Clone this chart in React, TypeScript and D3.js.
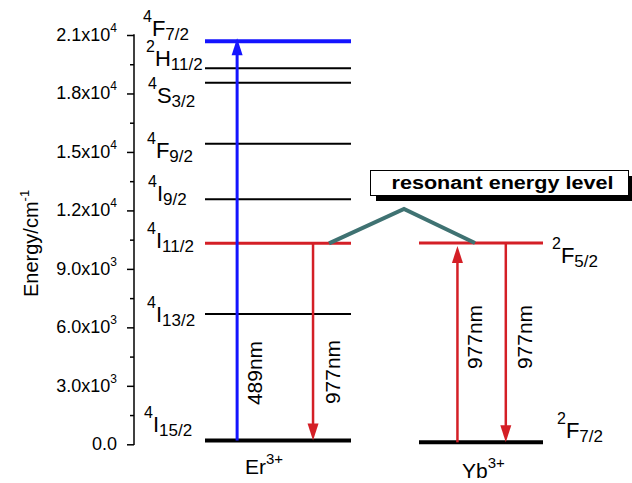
import React, { useEffect, useRef } from 'react';
import * as d3 from 'd3';

// Er3+ levels, top to bottom (cm^-1)
const erTermSup = ['4', '2', '4', '4', '4', '4', '4', '4'];
const erTermLetter = ['F', 'H', 'S', 'F', 'I', 'I', 'I', 'I'];
const erTermJ = ['7/2', '11/2', '3/2', '9/2', '9/2', '11/2', '13/2', '15/2'];
const erEnergy = [20680, 19290, 18550, 15420, 12570, 10310, 6690, 200];

// Yb3+ levels
const ybTermSup = ['2', '2'];
const ybTermLetter = ['F', 'F'];
const ybTermJ = ['5/2', '7/2'];
const ybEnergy = [10330, 100];

const yTicks = [0, 3000, 6000, 9000, 12000, 15000, 18000, 21000];
const yTickMantissa = ['0.0', '3.0x10', '6.0x10', '9.0x10', '1.2x10', '1.5x10', '1.8x10', '2.1x10'];
const yTickExp = ['', '3', '3', '3', '4', '4', '4', '4'];
const yMinorTicks = [1500, 4500, 7500, 10500, 13500, 16500, 19500];

const arrowLabels = ['489nm', '977nm', '977nm', '977nm'];
const resonantPeak = 12070;

const BLUE = '#1414ff';
const RED = '#d41f26';
const TEAL = '#3f7272';

const Term = ({ x, y, sup, letter, j }) => (
  <text x={x} y={y}>
    <tspan fontSize={16} dy={-14}>{sup}</tspan>
    <tspan fontSize={22} dy={14}>{letter}</tspan>
    <tspan fontSize={17} dy={4}>{j}</tspan>
  </text>
);

const Arrow = ({ x, from, to, color, width }) => {
  const dir = to < from ? -1 : 1;
  const head = 17;
  const half = 5.5;
  const base = to - dir * head;
  return (
    <g>
      <line x1={x} x2={x} y1={from} y2={base + dir * 2} stroke={color} strokeWidth={width} />
      <path d={`M${x},${to} L${x - half},${base} L${x + half},${base} Z`} fill={color} />
    </g>
  );
};

export default function App() {
  const axisRef = useRef(null);
  const y = d3.scaleLinear().domain([0, 21000]).range([444.3, 35]);

  const er = [205, 351];
  const yb = [419, 543];

  useEffect(() => {
    const g = d3.select(axisRef.current);
    g.selectAll('*').remove();
    g.append('g')
      .call(d3.axisLeft(y).tickValues(yTicks).tickSize(7).tickFormat(() => ''))
      .call((s) => s.select('.domain').remove());
    g.append('g')
      .call(d3.axisLeft(y).tickValues(yMinorTicks).tickSize(4).tickFormat(() => ''))
      .call((s) => s.select('.domain').remove());
    g.selectAll('.tick line').attr('stroke', '#000').attr('stroke-width', 1.5);
    g.append('line')
      .attr('y1', y(0) + 0.75)
      .attr('y2', y(21000) - 0.75)
      .attr('stroke', '#000')
      .attr('stroke-width', 1.5);
  }, []);

  const erColor = (i) => (i === 0 ? BLUE : i === 5 ? RED : '#000');
  const erWidth = (i) => (i === 0 ? 4 : i === 5 ? 3 : i === 7 ? 4 : 2);
  const erLabelDx = [-3, 0, 2, 1, 2, 1, 1, -2];
  const erLabelDy = [-5, -2, 20, 14, 2, 5, 8, -8];

  const ax = {
    blue: er[0] + 0.22 * (er[1] - er[0]),
    erRed: er[0] + 0.74 * (er[1] - er[0]),
    ybUp: yb[0] + 0.31 * (yb[1] - yb[0]),
    ybDown: yb[0] + 0.70 * (yb[1] - yb[0]),
  };

  return (
    <svg
      width={632}
      height={483}
      style={{ position: 'absolute', left: 0, top: 0 }}
      fontFamily="'Liberation Sans', Arial, sans-serif"
    >
      <rect width={632} height={483} fill="#fff" />

      {/* y axis */}
      <g ref={axisRef} transform="translate(134,0)" />
      {yTicks.map((t, i) => (
        <text key={t} x={117} y={y(t) + 6} fontSize={18} textAnchor="end">
          {yTickMantissa[i]}
          {yTickExp[i] && (
            <tspan fontSize={12} dy={-9}>{yTickExp[i]}</tspan>
          )}
        </text>
      ))}
      <text transform={`translate(38,297) rotate(-90)`} fontSize={20}>
        Energy/cm<tspan fontSize={13} dy={-9}>-1</tspan>
      </text>

      {/* Er levels */}
      {erEnergy.map((e, i) => (
        <line key={i} x1={er[0]} x2={er[1]} y1={y(e)} y2={y(e)} stroke={erColor(i)} strokeWidth={erWidth(i)} />
      ))}
      {erEnergy.map((e, i) => (
        <Term
          key={i}
          x={146 + erLabelDx[i]}
          y={y(e) + erLabelDy[i]}
          sup={erTermSup[i]}
          letter={erTermLetter[i]}
          j={erTermJ[i]}
        />
      ))}

      {/* Yb levels */}
      {ybEnergy.map((e, i) => (
        <line key={i} x1={yb[0]} x2={yb[1]} y1={y(e)} y2={y(e)} stroke={i === 0 ? RED : '#000'} strokeWidth={i === 0 ? 3 : 4} />
      ))}
      <Term x={552} y={y(ybEnergy[0]) + 20} sup={ybTermSup[0]} letter={ybTermLetter[0]} j={ybTermJ[0]} />
      <Term x={557} y={y(ybEnergy[1]) - 4} sup={ybTermSup[1]} letter={ybTermLetter[1]} j={ybTermJ[1]} />

      {/* transitions */}
      <Arrow x={ax.blue} from={y(erEnergy[7])} to={y(erEnergy[0]) - 3} color={BLUE} width={3} />
      <Arrow x={ax.erRed} from={y(erEnergy[5])} to={y(erEnergy[7])} color={RED} width={2.5} />
      <Arrow x={ax.ybUp} from={y(ybEnergy[1])} to={y(ybEnergy[0]) + 3} color={RED} width={2.5} />
      <Arrow x={ax.ybDown} from={y(ybEnergy[0])} to={y(ybEnergy[1])} color={RED} width={2.5} />

      {[
        [ax.blue + 25, 373],
        [ax.erRed + 27, 372],
        [ax.ybUp + 25, 337],
        [ax.ybDown + 26, 337],
      ].map(([tx, ty], i) => (
        <text key={i} transform={`translate(${tx},${ty}) rotate(-90)`} fontSize={21} textAnchor="middle">
          {arrowLabels[i]}
        </text>
      ))}

      {/* resonant energy transfer */}
      <polyline
        points={[
          [329, y(erEnergy[5])],
          [404, y(resonantPeak)],
          [475, y(ybEnergy[0])],
        ].map((p) => p.join(',')).join(' ')}
        fill="none"
        stroke={TEAL}
        strokeWidth={4}
      />
      <rect x={376} y={176} width={259} height={25} fill="#000" />
      <rect x={370.5} y={170.5} width={258} height={25} fill="#fff" stroke="#000" strokeWidth={1} />
      <text x={502.5} y={189} fontSize={18} fontWeight="bold" textAnchor="middle" textLength={222} lengthAdjust="spacingAndGlyphs">
        resonant energy level
      </text>

      {/* ion labels */}
      <text x={245} y={474} fontSize={21}>
        Er<tspan fontSize={15} dy={-10}>3+</tspan>
      </text>
      <text x={462} y={478} fontSize={21}>
        Yb<tspan fontSize={15} dy={-10}>3+</tspan>
      </text>
    </svg>
  );
}
